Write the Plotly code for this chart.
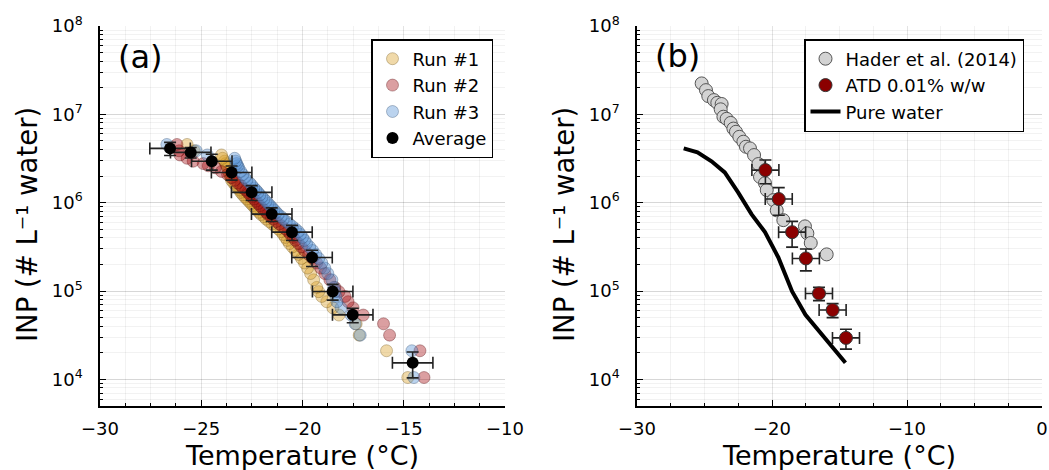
import plotly.graph_objects as go

W, H = 1049, 470
FONT = "DejaVu Sans"

# ---------------- data: panel (a) ----------------
inp_levels = [1.05e4, 2.11e4, 3.17e4, 4.26e4, 5.35e4, 6.45e4, 7.57e4, 8.70e4, 9.84e4, 1.10e5,
              1.34e5, 1.58e5, 1.82e5, 2.08e5, 2.34e5, 2.60e5, 2.88e5, 3.16e5, 3.45e5, 3.75e5,
              4.05e5, 4.37e5, 4.70e5, 5.04e5, 5.39e5, 5.75e5, 6.13e5, 6.52e5, 6.93e5, 7.36e5,
              7.80e5, 8.27e5, 8.75e5, 9.27e5, 9.81e5, 1.04e6, 1.10e6, 1.16e6, 1.23e6, 1.31e6,
              1.39e6, 1.47e6, 1.57e6, 1.67e6, 1.79e6, 1.93e6, 2.08e6, 2.26e6,
              2.48e6, 2.62e6, 2.77e6, 2.95e6, 3.18e6, 3.47e6, 3.87e6, 4.56e6]

run1_T = [-14.8, -15.85, -17.2, -17.35, -18.2, -18.5, -18.8, -19.05, -19.2, -19.3,
          -19.45, -19.6, -19.75, -19.9, -20.05, -20.2, -20.35, -20.5, -20.65, -20.75,
          -20.85, -20.95, -21.05, -21.2, -21.35, -21.5, -21.65, -21.8, -21.9, -22.05,
          -22.15, -22.25, -22.35, -22.45, -22.55, -22.65, -22.75, -22.85, -22.95, -23.05,
          -23.1, -23.2, -23.3, -23.4, -23.5, -23.55, -23.6, -23.65,
          -23.7, -23.75, -23.8, -23.85, -23.95, -24.0, -25.35, -25.7]

run2_T = [-14.0, -14.2, -15.7, -16.0, -17.0, -17.5, -17.75, -17.9, -18.2, -18.4,
          -18.65, -18.9, -19.1, -19.3, -19.5, -19.7, -19.9, -20.05, -20.2, -20.35,
          -20.45, -20.6, -20.7, -20.85, -21.0, -21.15, -21.3, -21.45, -21.55, -21.7,
          -21.8, -21.9, -22.0, -22.1, -22.2, -22.3, -22.4, -22.5, -22.6, -22.7,
          -22.8, -22.95, -23.05, -23.2, -23.35, -23.5, -23.7, -24.0,
          -24.3, -24.65, -24.9, -25.4, -25.7, -26.05, -26.1, -26.2]

run3_T = [-14.5, -14.6, -17.15, -17.4, -17.6, -18.1, -18.3, -18.35, -18.4, -18.45,
          -18.55, -18.75, -18.9, -19.05, -19.2, -19.35, -19.5, -19.65, -19.8, -19.9,
          -20.0, -20.1, -20.2, -20.35, -20.5, -20.65, -20.8, -20.95, -21.05, -21.2,
          -21.3, -21.4, -21.5, -21.6, -21.7, -21.8, -21.9, -22.0, -22.1, -22.2,
          -22.3, -22.4, -22.5, -22.6, -22.75, -22.85, -22.95, -23.05,
          -23.15, -23.2, -23.25, -23.3, -23.35, -24.7, -25.25, -26.7]

avg_T = [-26.54, -25.52, -24.48, -23.50, -22.51, -21.52, -20.52, -19.53, -18.51, -17.52, -14.56]
avg_inp = [4.12e6, 3.71e6, 2.94e6, 2.20e6, 1.31e6, 7.43e5, 4.64e5, 2.40e5, 9.9e4, 5.38e4, 1.54e4]
avg_T_err = [1.0, 1.0, 1.0, 1.0, 1.0, 1.0, 1.0, 1.0, 1.0, 1.0, 1.0]
avg_inp_err = [7e5, 5e5, 6e5, 4e5, 2.5e5, 1.3e5, 9e4, 5e4, 2e4, 1.0e4, 5e3]

# ---------------- data: panel (b) ----------------
hader_T = [-25.21, -24.89, -24.72, -24.30, -24.05, -23.73, -23.80, -23.60, -23.36, -23.06,
           -22.86, -22.67, -22.42, -22.12, -21.93, -21.63, -21.33, -21.01, -20.89, -20.52,
           -20.39, -19.90, -19.65, -19.16, -17.56, -17.38, -17.13, -15.95]
hader_inp = [2.24e7, 1.88e7, 1.61e7, 1.45e7, 1.35e7, 1.31e7, 1.14e7, 9.4e6, 8.9e6, 8.0e6,
             6.9e6, 6.35e6, 5.57e6, 4.9e6, 4.3e6, 4.12e6, 3.46e6, 2.74e6, 1.96e6, 1.66e6,
             1.39e6, 1.07e6, 8.2e5, 6.35e5, 5.4e5, 4.5e5, 3.5e5, 2.6e5]

atd_T = [-20.49, -19.50, -18.51, -17.49, -16.52, -15.51, -14.52]
atd_inp = [2.34e6, 1.10e6, 4.64e5, 2.34e5, 9.4e4, 6.1e4, 2.95e4]
atd_T_err = [1.0, 1.0, 1.0, 1.0, 1.0, 1.0, 1.0]
atd_inp_err = [7e5, 3.8e5, 1.5e5, 6.5e4, 1.6e4, 1.1e4, 7.5e3]

# pure water = average of panel (a)
water_T = avg_T
water_inp = avg_inp

y_tickvals = [1e4, 1e5, 1e6, 1e7, 1e8]
y_ticktext = ["10<sup>4</sup>", "10<sup>5</sup>", "10<sup>6</sup>", "10<sup>7</sup>", "10<sup>8</sup>"]

# ---------------- figure ----------------
fig = go.Figure()

run_specs = [("Run #1", run1_T, (218, 160, 40)),
             ("Run #2", run2_T, (165, 15, 21)),
             ("Run #3", run3_T, (84, 144, 212))]
for name, T, (r, g, b) in run_specs:
    fig.add_trace(go.Scatter(
        x=T, y=inp_levels, mode="markers", name=name,
        marker=dict(size=12, color=f"rgba({r},{g},{b},0.4)",
                    line=dict(color=f"rgba({r//2},{g//2},{b//2},0.35)", width=1)),
        xaxis="x", yaxis="y", legend="legend"))

fig.add_trace(go.Scatter(
    x=avg_T, y=avg_inp, mode="markers", name="Average",
    marker=dict(size=12, color="black"),
    error_x=dict(type="data", array=avg_T_err, color="#222", thickness=1.6, width=6),
    error_y=dict(type="data", array=avg_inp_err, color="#222", thickness=1.6, width=6),
    xaxis="x", yaxis="y", legend="legend"))

fig.add_trace(go.Scatter(
    x=hader_T, y=hader_inp, mode="markers", name="Hader et al. (2014)",
    marker=dict(size=13, color="#d3d3d3", line=dict(color="#555", width=1)),
    xaxis="x2", yaxis="y2", legend="legend2"))

fig.add_trace(go.Scatter(
    x=atd_T, y=atd_inp, mode="markers", name="ATD 0.01% w/w",
    marker=dict(size=13, color="#8b0000", line=dict(color="#333", width=1)),
    error_x=dict(type="data", array=atd_T_err, color="#222", thickness=1.6, width=6),
    error_y=dict(type="data", array=atd_inp_err, color="#222", thickness=1.6, width=6),
    xaxis="x2", yaxis="y2", legend="legend2"))

fig.add_trace(go.Scatter(
    x=water_T, y=water_inp, mode="lines", name="Pure water",
    line=dict(color="black", width=4),
    xaxis="x2", yaxis="y2", legend="legend2"))

GRID = "rgba(0,0,0,0.11)"
MGRID = "rgba(0,0,0,0.05)"
ydom = [1 - 406 / H, 1 - 26 / H]

def xaxis_common(rng, dtick, mdtick, dom, anchor):
    return dict(domain=dom, range=rng, anchor=anchor, tickmode="linear", tick0=-30, dtick=dtick,
                ticks="inside", ticklen=6, tickwidth=1.2, tickcolor="black",
                showline=True, linecolor="black", linewidth=1.5, mirror=False,
                showgrid=True, gridcolor=GRID, gridwidth=1, zeroline=False,
                minor=dict(tick0=-30, dtick=mdtick, ticks="inside", ticklen=3, tickwidth=1,
                           tickcolor="black", showgrid=True, gridcolor=MGRID, gridwidth=1),
                tickfont=dict(family=FONT, size=18, color="black"),
                ticklabelstandoff=6, automargin=False)

def yaxis_common(anchor):
    return dict(domain=ydom, type="log", range=[3.699, 8], anchor=anchor,
                tickmode="array", tickvals=y_tickvals, ticktext=y_ticktext,
                ticks="inside", ticklen=6, tickwidth=1.2, tickcolor="black",
                showline=True, linecolor="black", linewidth=1.5, mirror=False,
                showgrid=True, gridcolor=GRID, gridwidth=1, zeroline=False,
                minor=dict(dtick="D1", ticks="inside", ticklen=3, tickwidth=1,
                           tickcolor="black", showgrid=True, gridcolor=MGRID, gridwidth=1),
                tickfont=dict(family=FONT, size=18, color="black"),
                ticklabelstandoff=12, automargin=False)

legend_common = dict(xanchor="left", yanchor="top", bgcolor="white", bordercolor="black",
                     borderwidth=1.5, font=dict(family=FONT, size=18, color="black"),
                     itemwidth=30, tracegroupgap=0)

fig.update_layout(
    width=W, height=H, margin=dict(l=0, r=0, t=0, b=0),
    paper_bgcolor="white", plot_bgcolor="white",
    font=dict(family=FONT, color="black"),
    xaxis=xaxis_common([-30, -10], 5, 1.25, [100 / W, 505 / W], "y"),
    yaxis=yaxis_common("x"),
    xaxis2=xaxis_common([-30, 0], 10, 2.5, [637 / W, 1042 / W], "y2"),
    yaxis2=yaxis_common("x2"),
    legend=dict(x=371 / W, y=1 - 39 / H, **legend_common),
    legend2=dict(x=804 / W, y=1 - 39 / H, **legend_common),
)

annos = [
    dict(text="Temperature (°C)", x=302 / W, y=1 - 455 / H, size=27, angle=0),
    dict(text="Temperature (°C)", x=839 / W, y=1 - 455 / H, size=27, angle=0),
    dict(text="INP (# L⁻¹ water)", x=27 / W, y=1 - 225 / H, size=27.5, angle=-90),
    dict(text="INP (# L⁻¹ water)", x=564 / W, y=1 - 225 / H, size=27.5, angle=-90),
    dict(text="(a)", x=140 / W, y=1 - 57 / H, size=32, angle=0),
    dict(text="(b)", x=677 / W, y=1 - 56 / H, size=32, angle=0),
]
for a in annos:
    fig.add_annotation(text=a["text"], x=a["x"], y=a["y"], xref="paper", yref="paper",
                       xanchor="center", yanchor="middle", showarrow=False, textangle=a["angle"],
                       font=dict(family=FONT, size=a["size"], color="black"))

fig.write_html("out.html", config={"displayModeBar": False},
               post_script="document.body.style.margin='0';document.body.style.overflow='hidden';")
